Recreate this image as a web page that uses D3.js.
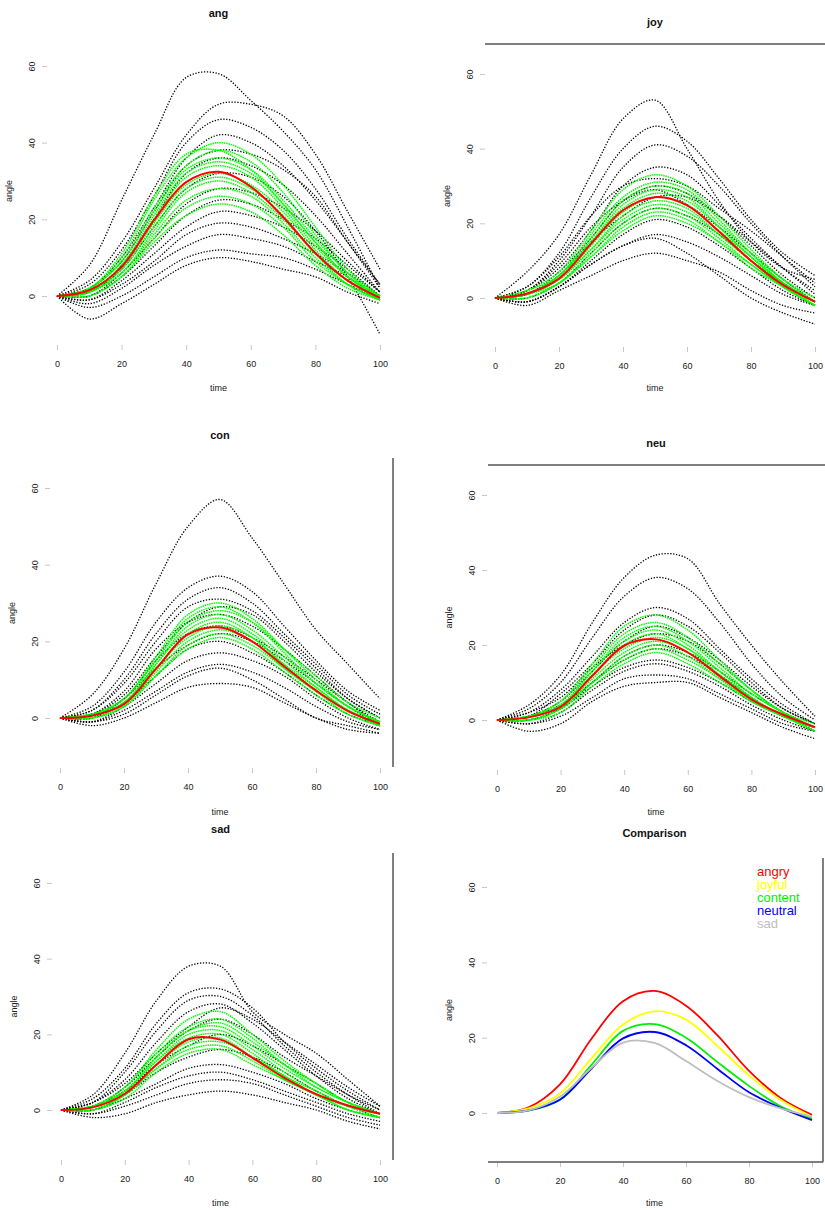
<!DOCTYPE html>
<html>
<head>
<meta charset="utf-8">
<script src="https://cdn.jsdelivr.net/npm/d3@7"></script>
<style>
body { margin: 0; background: #fff; }
svg { display: block; }
text { font-family: "Liberation Sans", Arial, sans-serif; }
.tick line { stroke: #c8c8c8; }
.tick text { font-size: 9px; fill: #222; }
.title { font-size: 11px; font-weight: bold; fill: #111; }
.lab { font-size: 9px; fill: #222; }
.frame { stroke: #555; stroke-width: 1.5; }
.legend { font-size: 13px; }
</style>
</head>
<body>
<div id="chart"></div>
<script>

// sample times for every curve
var times = [0, 10, 20, 30, 40, 50, 60, 70, 80, 90, 100];
var xTicks = [0, 20, 40, 60, 80, 100];
var yTicks = [0, 20, 40, 60];

// mean curves (red in each panel, coloured in the comparison)
var angMean = [0, 1.5, 7.6, 19.7, 29.7, 32.4, 28.5, 20.6, 11.2, 4, -0.5];
var joyMean = [0, 1.2, 5.2, 14.5, 23.5, 27, 24.8, 17.8, 10, 3.5, -1];
var conMean = [0, 0.6, 3.6, 12.8, 21.8, 23.6, 20, 13.5, 7.2, 1.8, -1.5];
var neuMean = [0, 0.7, 3.5, 11.8, 19.8, 21.5, 18, 11.7, 5.5, 1.4, -1.9];
var sadMean = [0, 0.7, 4.3, 12, 18.7, 18.6, 13.8, 8.5, 4.2, 1.2, -1];

var angBlack = [
  [0, 8, 25, 42, 57, 58, 51, 43, 33, 18, 2],
  [0, 4, 14, 28, 42, 50, 50, 47, 37, 22, 7],
  [0, 3, 12, 26, 40, 46, 44, 38, 28, 15, 3],
  [0, 2, 10, 23, 36, 42, 40, 34, 25, 14, 2],
  [0, 2, 9, 22, 34, 38, 37, 33, 26, 14, 3],
  [0, 1, 8, 20, 32, 36, 34, 29, 21, 11, 1],
  [0, 1, 7, 18, 28, 32, 31, 26, 17, 5, -10],
  [0, 0, 6, 15, 24, 28, 27, 23, 17, 9, 1],
  [0, 0, 5, 13, 21, 25, 24, 20, 15, 8, 1],
  [0, -1, 4, 11, 18, 22, 21, 18, 13, 7, 0],
  [0, -1, 3, 9, 16, 19, 18, 15, 11, 6, 0],
  [0, -2, 2, 8, 13, 16, 15, 13, 9, 5, -1],
  [0, -3, 0, 5, 10, 12, 11, 10, 7, 3, -1],
  [0, -6, -2, 3, 8, 10, 9, 7, 5, 1, -2]
];
var angGreen = [
  [0, 2, 10, 25, 36, 40, 37, 29, 18, 7, 0],
  [0, 2, 11, 26, 37, 38, 33, 24, 14, 5, 0],
  [0, 2, 9, 23, 34, 38, 35, 27, 16, 6, 0],
  [0, 2, 9, 22, 33, 36, 33, 25, 15, 6, -1],
  [0, 1, 8, 21, 32, 35, 32, 24, 14, 5, -1],
  [0, 1, 8, 20, 31, 34, 31, 23, 13, 5, 0],
  [0, 1, 7, 19, 29, 32, 29, 22, 12, 4, -1],
  [0, 1, 7, 18, 28, 31, 28, 21, 11, 4, 0],
  [0, 1, 6, 17, 27, 30, 27, 20, 11, 3, -1],
  [0, 1, 6, 16, 25, 28, 26, 19, 10, 3, -1],
  [0, 0, 5, 15, 23, 26, 24, 18, 9, 3, -1],
  [0, 0, 5, 14, 21, 24, 22, 16, 8, 2, -1]
];

var joyBlack = [
  [0, 7, 17, 33, 48, 53, 40, 26, 15, 8, 5],
  [0, 3, 12, 27, 40, 46, 42, 32, 21, 12, 6],
  [0, 2, 10, 22, 35, 41, 38, 30, 20, 11, 3],
  [0, 2, 8, 18, 30, 35, 33, 25, 16, 8, 2],
  [0, 3, 11, 22, 30, 32, 30, 24, 18, 11, 4],
  [0, 1, 7, 16, 26, 30, 28, 22, 14, 6, 0],
  [0, 2, 9, 19, 26, 29, 25, 19, 12, 5, -1],
  [0, 1, 6, 15, 22, 27, 27, 22, 15, 8, 1],
  [0, 0, 4, 12, 20, 24, 22, 17, 10, 4, -1],
  [0, -1, 3, 10, 17, 21, 19, 14, 8, 2, -2],
  [0, -1, 3, 9, 14, 17, 15, 11, 6, 1, -2],
  [0, -1, 3, 9, 14, 16, 12, 6, 0, -4, -7],
  [0, -2, 2, 6, 10, 12, 10, 7, 2, -2, -4]
];
var joyGreen = [
  [0, 2, 7, 18, 29, 33, 30, 22, 13, 5, -1],
  [0, 2, 6, 17, 27, 31, 29, 21, 12, 5, 0],
  [0, 1, 6, 16, 26, 30, 28, 20, 12, 4, -1],
  [0, 1, 6, 15, 25, 29, 27, 19, 11, 4, -1],
  [0, 1, 6, 15, 24, 28, 26, 19, 11, 4, -1],
  [0, 1, 5, 14, 23, 27, 25, 18, 11, 4, -2],
  [0, 1, 5, 13, 22, 26, 24, 17, 10, 4, -1],
  [0, 1, 5, 13, 21, 25, 23, 17, 10, 3, -2],
  [0, 1, 4, 12, 20, 24, 22, 16, 9, 3, -2],
  [0, 0, 4, 11, 19, 23, 21, 15, 9, 3, -2],
  [0, 0, 4, 11, 18, 22, 20, 15, 8, 3, -2]
];

var conBlack = [
  [0, 6, 18, 35, 50, 57, 47, 35, 23, 14, 5],
  [0, 3, 12, 25, 34, 37, 33, 24, 15, 7, 2],
  [0, 2, 10, 22, 31, 34, 30, 22, 14, 6, 1],
  [0, 2, 9, 20, 29, 31, 28, 21, 13, 5, 0],
  [0, 1, 6, 16, 25, 29, 27, 20, 12, 5, 0],
  [0, 1, 7, 18, 25, 27, 24, 18, 11, 4, -1],
  [0, 1, 5, 15, 22, 24, 21, 16, 10, 4, -2],
  [0, 0, 5, 13, 19, 22, 20, 15, 9, 3, -2],
  [0, 0, 4, 11, 18, 20, 17, 12, 6, 1, -2],
  [0, -1, 3, 9, 15, 17, 15, 11, 5, 0, -3],
  [0, -1, 2, 7, 12, 14, 12, 8, 3, -1, -3],
  [0, -1, 1, 6, 11, 13, 10, 5, 0, -2, -4],
  [0, -2, 0, 4, 8, 9, 8, 4, 0, -3, -4]
];
var conGreen = [
  [0, 1, 5, 16, 27, 30, 26, 18, 10, 3, -1],
  [0, 1, 5, 15, 26, 29, 25, 17, 9, 3, -1],
  [0, 1, 5, 15, 25, 28, 25, 18, 11, 4, 0],
  [0, 1, 4, 14, 24, 27, 23, 16, 9, 3, -1],
  [0, 1, 4, 14, 23, 26, 22, 15, 8, 2, -1],
  [0, 1, 4, 13, 22, 25, 21, 14, 8, 2, -2],
  [0, 0, 4, 13, 21, 24, 21, 14, 7, 2, -2],
  [0, 0, 3, 12, 20, 23, 20, 13, 7, 2, -2],
  [0, 0, 3, 11, 19, 22, 19, 13, 7, 1, -2],
  [0, 0, 3, 11, 18, 21, 18, 12, 6, 1, -2]
];

var neuBlack = [
  [0, 4, 12, 26, 38, 44, 43, 31, 20, 10, 1],
  [0, 3, 10, 22, 33, 38, 35, 26, 15, 6, 0],
  [0, 2, 8, 17, 26, 30, 27, 19, 11, 4, -1],
  [0, 1, 7, 15, 24, 28, 25, 18, 10, 3, -1],
  [0, 1, 5, 13, 21, 25, 22, 16, 9, 3, -1],
  [0, 2, 6, 14, 20, 23, 21, 15, 8, 2, -2],
  [0, 0, 3, 10, 17, 20, 18, 13, 7, 2, -3],
  [0, 1, 4, 10, 16, 19, 17, 12, 6, 1, -2],
  [0, 0, 3, 9, 14, 16, 14, 10, 5, 1, -2],
  [0, -1, 2, 8, 13, 15, 13, 9, 4, 0, -3],
  [0, -1, 1, 6, 11, 12, 11, 7, 3, -1, -3],
  [0, -3, -1, 5, 9, 10, 10, 6, 2, -2, -5]
];
var neuGreen = [
  [0, 1, 5, 15, 25, 28, 24, 16, 8, 2, -1],
  [0, 1, 5, 14, 23, 26, 22, 15, 8, 2, -2],
  [0, 1, 4, 13, 22, 25, 21, 14, 7, 2, -2],
  [0, 1, 4, 13, 21, 24, 20, 13, 7, 2, -2],
  [0, 1, 4, 12, 20, 23, 19, 13, 6, 1, -2],
  [0, 0, 3, 12, 19, 22, 19, 12, 6, 1, -2],
  [0, 0, 3, 11, 18, 21, 18, 12, 6, 1, -2],
  [0, 0, 3, 10, 17, 20, 17, 11, 5, 1, -2],
  [0, 0, 3, 10, 16, 19, 16, 11, 5, 1, -3],
  [0, 0, 2, 9, 15, 18, 15, 10, 5, 1, -3]
];

var sadBlack = [
  [0, 4, 15, 29, 38, 38, 26, 20, 15, 8, 1],
  [0, 3, 11, 23, 31, 32, 27, 18, 11, 5, 0],
  [0, 2, 10, 21, 29, 30, 25, 17, 10, 4, -1],
  [0, 2, 8, 18, 26, 28, 23, 16, 9, 3, -1],
  [0, 2, 7, 15, 22, 27, 24, 18, 12, 6, 1],
  [0, 1, 6, 14, 21, 24, 20, 14, 9, 4, 0],
  [0, 1, 5, 12, 17, 20, 17, 12, 7, 2, -1],
  [0, 0, 4, 10, 14, 16, 14, 10, 5, 1, -2],
  [0, 0, 3, 7, 11, 12, 10, 7, 3, 0, -2],
  [0, -1, 2, 6, 9, 10, 8, 5, 2, -1, -3],
  [0, -1, 1, 4, 7, 8, 7, 4, 1, -2, -4],
  [0, -2, -1, 2, 4, 5, 4, 2, 0, -3, -5]
];
var sadGreen = [
  [0, 1, 6, 16, 24, 26, 20, 13, 7, 2, -1],
  [0, 1, 6, 15, 22, 24, 19, 12, 7, 2, -1],
  [0, 1, 5, 14, 21, 23, 18, 12, 6, 2, -1],
  [0, 1, 5, 14, 21, 22, 17, 11, 6, 2, -1],
  [0, 1, 5, 13, 20, 21, 16, 10, 5, 1, -1],
  [0, 1, 5, 13, 19, 20, 15, 9, 5, 1, -1],
  [0, 0, 4, 12, 18, 19, 14, 9, 4, 1, -1],
  [0, 0, 4, 11, 17, 18, 14, 9, 4, 1, -2],
  [0, 0, 4, 11, 16, 17, 13, 8, 4, 0, -2],
  [0, 0, 3, 10, 15, 16, 12, 8, 4, 0, -2]
];

var compLabels = ["angry", "joyful", "content", "neutral", "sad"];
var compMeans = [angMean, joyMean, conMean, neuMean, sadMean];
var compColors = ["#ff0000", "#ffff00", "#00ee00", "#0000ff", "#bebebe"];

var panels = [
  {title: "ang", black: angBlack, green: angGreen, mean: angMean,
   x0: 57, x1: 380, y0: 296, y60: 66, titleY: 13, timeY: 388, xAxisY: 345, yAxisX: 47, yLabX: 9},
  {title: "joy", black: joyBlack, green: joyGreen, mean: joyMean,
   x0: 495, x1: 815, y0: 298, y60: 74, titleY: 22, timeY: 388, xAxisY: 347, yAxisX: 485, yLabX: 447,
   lines: [[485, 44, 825, 44]]},
  {title: "con", black: conBlack, green: conGreen, mean: conMean,
   x0: 60, x1: 380, y0: 718, y60: 488, titleY: 435, timeY: 812, xAxisY: 768, yAxisX: 50, yLabX: 12,
   lines: [[393, 458, 393, 767]]},
  {title: "neu", black: neuBlack, green: neuGreen, mean: neuMean,
   x0: 497, x1: 815, y0: 720, y60: 495, titleY: 443, timeY: 812, xAxisY: 770, yAxisX: 487, yLabX: 449,
   lines: [[488, 465, 825, 465]]},
  {title: "sad", black: sadBlack, green: sadGreen, mean: sadMean,
   x0: 61, x1: 380, y0: 1110, y60: 883, titleY: 829, timeY: 1203, xAxisY: 1160, yAxisX: 52, yLabX: 14,
   lines: [[393, 853, 393, 1160]]},
  {title: "Comparison", comparison: true,
   x0: 497, x1: 812, y0: 1113, y60: 887, titleY: 833, timeY: 1203, xAxisY: 1162, yAxisX: 487, yLabX: 449,
   lines: [[823, 858, 823, 1162], [488, 1162, 823, 1162]]}
];

var svg = d3.select("#chart").append("svg")
    .attr("width", 825)
    .attr("height", 1210);

panels.forEach(function(p) {
  var x = d3.scaleLinear().domain([0, 100]).range([p.x0, p.x1]);
  var y = d3.scaleLinear().domain([0, 60]).range([p.y0, p.y60]);
  var line = d3.line()
      .x(function(d, i) { return x(times[i]); })
      .y(function(d) { return y(d); })
      .curve(d3.curveCatmullRom.alpha(0.5));

  var g = svg.append("g");

  if (p.comparison) {
    g.selectAll(".mean")
      .data(compMeans)
      .enter().append("path")
        .attr("d", line)
        .attr("fill", "none")
        .attr("stroke", function(d, i) { return compColors[i]; })
        .attr("stroke-width", 1.8);

    g.selectAll(".legend")
      .data(compLabels)
      .enter().append("text")
        .attr("class", "legend")
        .attr("x", 757)
        .attr("y", function(d, i) { return 876 + i * 13; })
        .attr("fill", function(d, i) { return compColors[i]; })
        .text(function(d) { return d; });
  } else {
    g.selectAll(".blk")
      .data(p.black)
      .enter().append("path")
        .attr("d", line)
        .attr("fill", "none")
        .attr("stroke", "#000")
        .attr("stroke-width", 1.3)
        .attr("stroke-dasharray", "1.3 1.6");

    g.selectAll(".grn")
      .data(p.green)
      .enter().append("path")
        .attr("d", line)
        .attr("fill", "none")
        .attr("stroke", "#00ff00")
        .attr("stroke-width", 1.5)
        .attr("stroke-dasharray", "1.5 0.8");

    g.append("path")
      .datum(p.mean)
      .attr("d", line)
      .attr("fill", "none")
      .attr("stroke", "#ff0000")
      .attr("stroke-width", 2);
  }

  // axes
  g.append("g")
      .attr("transform", "translate(0," + p.xAxisY + ")")
      .call(d3.axisBottom(x).tickValues(xTicks).tickSize(5).tickPadding(11))
      .call(function(a) { a.select(".domain").remove(); });

  g.append("g")
      .attr("transform", "translate(" + p.yAxisX + ",0)")
      .call(d3.axisLeft(y).tickValues(yTicks).tickSize(5))
      .call(function(a) {
        a.select(".domain").remove();
        a.selectAll("text")
          .attr("x", 0)
          .attr("y", -12)
          .attr("dy", null)
          .attr("text-anchor", "middle")
          .attr("transform", "rotate(-90)");
      });

  var cx = (p.x0 + p.x1) / 2;
  g.append("text")
      .attr("class", "title")
      .attr("x", cx)
      .attr("y", p.titleY + 4)
      .attr("text-anchor", "middle")
      .text(p.title);

  g.append("text")
      .attr("class", "lab")
      .attr("x", cx)
      .attr("y", p.timeY + 3)
      .attr("text-anchor", "middle")
      .text("time");

  g.append("text")
      .attr("class", "lab")
      .attr("transform", "translate(" + (p.yLabX + 3) + "," + ((p.y0 + p.y60) / 2 + 10) + ") rotate(-90)")
      .attr("text-anchor", "middle")
      .text("angle");

  (p.lines || []).forEach(function(l) {
    g.append("line")
      .attr("class", "frame")
      .attr("x1", l[0]).attr("y1", l[1])
      .attr("x2", l[2]).attr("y2", l[3]);
  });
});

</script>
</body>
</html>
